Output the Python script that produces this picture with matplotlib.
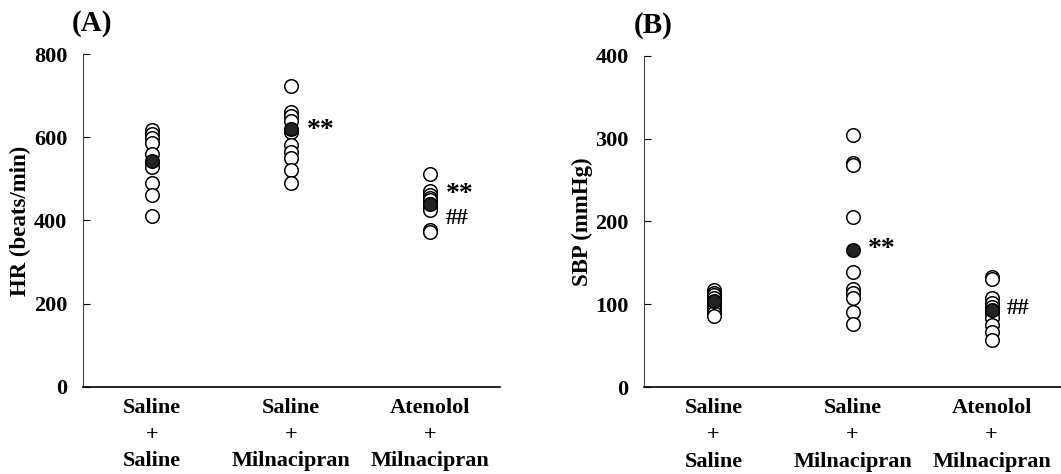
import numpy as np
import matplotlib
matplotlib.use("Agg")
import matplotlib.pyplot as plt

plt.rcParams['font.family'] = ['Liberation Serif', 'DejaVu Serif']
plt.rcParams['font.weight'] = 'bold'

# groups
groups = ["Saline\n+\nSaline", "Saline\n+\nMilnacipran", "Atenolol\n+\nMilnacipran"]

# (A) heart rate, beats/min - individual animals
hr_sal_sal = [617, 608, 598, 585, 560, 540, 529, 490, 461, 410]
hr_sal_mil = [722, 661, 652, 640, 612, 581, 565, 551, 521, 489]
hr_ate_mil = [511, 470, 462, 455, 448, 440, 432, 425, 378, 372]
hr_mean = [543, 620, 440]

# (B) systolic blood pressure, mmHg
sbp_sal_sal = [117, 114, 111, 107, 101, 97, 93, 89, 86]
sbp_sal_mil = [304, 271, 268, 206, 139, 119, 113, 107, 91, 76]
sbp_ate_mil = [133, 130, 107, 102, 97, 90, 83, 75, 67, 57]
sbp_mean = [104, 166, 93]

# significance marks: (group index, y value, text)
hr_marks = [(1, 617, "**"), (2, 462, "**"), (2, 404, "##")]
sbp_marks = [(1, 166, "**"), (2, 95, "##")]

fig = plt.figure(figsize=(10.61, 4.74), dpi=100)
axA = fig.add_axes([0.078, 0.184, 0.393, 0.702])
axB = fig.add_axes([0.607, 0.1835, 0.393, 0.6985])


def panel(ax, data, means, marks, ymax, yticks, ylabel, letter):
    xs = np.arange(len(data)) + 0.5
    for x, vals in zip(xs, data):
        ax.scatter(np.full(len(vals), x), vals, s=95, facecolors='white',
                   edgecolors='black', linewidths=1.1, zorder=3)
    ax.scatter(xs, means, s=95, facecolors='#222222', edgecolors='black',
               linewidths=1.1, zorder=4)
    for i, y, t in marks:
        ax.text(xs[i] + 0.11, y, t, fontsize=20 if t == "**" else 16.5,
                fontweight='bold', va='center', ha='left')
    ax.set_xlim(0, 3)
    ax.set_ylim(0, ymax)
    ax.set_yticks(yticks)
    ax.set_xticks(xs)
    ax.set_xticklabels(groups, fontsize=16, fontweight='bold', linespacing=1.45)
    ax.tick_params(axis='x', length=0, pad=8)
    ax.tick_params(axis='y', direction='in', length=5, labelsize=16, pad=11)
    for lab in ax.get_yticklabels():
        lab.set_fontweight('bold')
    ax.spines['top'].set_visible(False)
    ax.spines['right'].set_visible(False)
    ax.spines['left'].set_linewidth(0.8)
    ax.spines['left'].set_color('#444444')
    ax.spines['bottom'].set_linewidth(1.2)
    ax.set_ylabel(ylabel, fontsize=16.5, fontweight='bold', labelpad=2)
    ax.text(0.023, 1.05, letter, transform=ax.transAxes, fontsize=21,
            fontweight='bold', ha='center', va='bottom')


panel(axA, [hr_sal_sal, hr_sal_mil, hr_ate_mil], hr_mean, hr_marks,
      800, [0, 200, 400, 600, 800], "HR (beats/min)", "(A)")
panel(axB, [sbp_sal_sal, sbp_sal_mil, sbp_ate_mil], sbp_mean, sbp_marks,
      400, [0, 100, 200, 300, 400], "SBP (mmHg)", "(B)")

fig.savefig("out.png", dpi=100)
